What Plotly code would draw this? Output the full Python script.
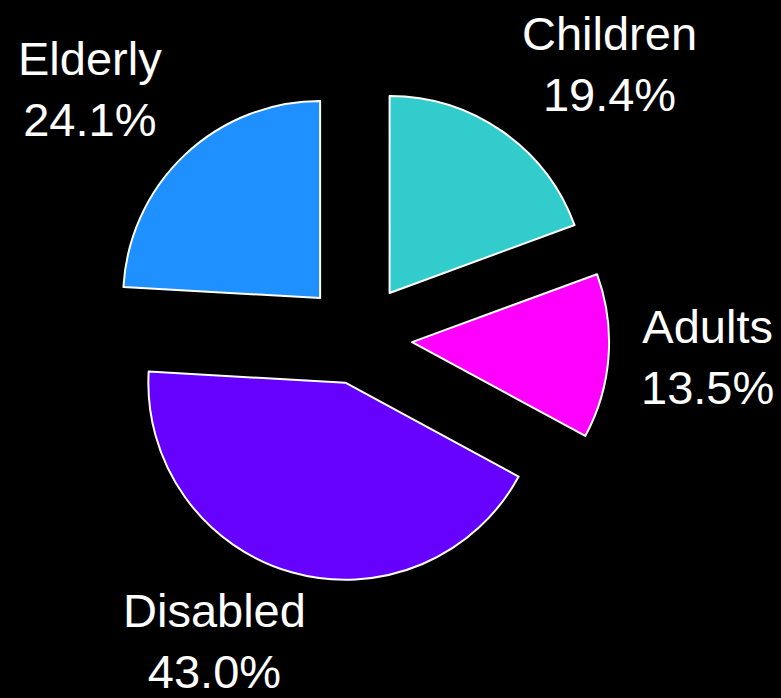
import math
import plotly.graph_objects as go

labels = ["Children", "Adults", "Disabled", "Elderly"]
values = [19.4, 13.5, 43.0, 24.1]
colors = ["#33CCCC", "#FF00FF", "#6600FF", "#1E90FF"]
pulls = [0.28, 0.275, 0.235, 0.28]
label_nudge_px = [0, 0, 25, 0]

W, H = 781, 698
dom_x = [0.1355, 0.7813]
dom_y = [0.1542, 0.8768]

fig = go.Figure(go.Pie(
    labels=labels,
    values=values,
    sort=False,
    direction="clockwise",
    rotation=0,
    pull=pulls,
    marker=dict(colors=colors, line=dict(color="white", width=2)),
    textinfo="none",
    showlegend=False,
    domain=dict(x=dom_x, y=dom_y),
    hoverinfo="label+percent",
))

# labels placed outside each slice, along the slice bisector
total = sum(values)
cx = (dom_x[0] + dom_x[1]) / 2 * W
cy = (dom_y[0] + dom_y[1]) / 2 * H
size = min((dom_x[1] - dom_x[0]) * W, (dom_y[1] - dom_y[0]) * H)
r = size / (2 + 2 * max(pulls))
gap = 10
hstretch = 1.08
cum = 0.0
for lab, val, p, nudge in zip(labels, values, pulls, label_nudge_px):
    mid = (cum + val / 2) / total * 2 * math.pi
    cum += val
    s, c = math.sin(mid), math.cos(mid)
    d = r * (1 + p) + gap
    px = cx + d * s * hstretch
    py = cy + d * c
    xa = "left" if s > 0.2 else ("right" if s < -0.2 else "center")
    ya = "bottom" if c > 0.3 else ("top" if c < -0.3 else "middle")
    fig.add_annotation(
        x=px / W, y=py / H, xref="paper", yref="paper",
        text=f"{lab}<br>{val:.1f}%",
        showarrow=False, xanchor=xa, yanchor=ya, align="center",
        xshift=nudge,
        font=dict(color="white", size=47, family="Liberation Sans"),
    )

fig.update_layout(
    width=W, height=H,
    paper_bgcolor="black", plot_bgcolor="black",
    margin=dict(l=0, r=0, t=0, b=0),
)

fig.write_html(
    "out.html",
    config={"displayModeBar": False},
    post_script="document.body.style.margin='0';document.body.style.background='black';",
)
